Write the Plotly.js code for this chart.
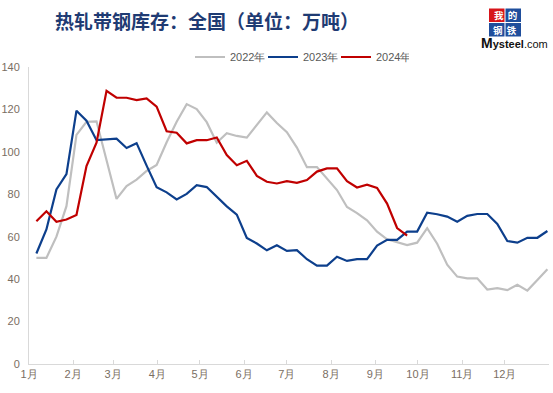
<!DOCTYPE html>
<html>
<head>
<meta charset="utf-8">
<script src="https://cdn.plot.ly/plotly-3.0.1.min.js"></script>
<style>
  html, body { margin: 0; padding: 0; background: #fff; }
  #chart { width: 553px; height: 393px; }
</style>
</head>
<body>
<div id="chart"></div>
<script>
// Weekly inventory (万吨), week index 1..52
const seriesNames = ['2022年', '2023年', '2024年'];
const seriesColors = ['#BFBFBF', '#0D3F8C', '#C00000'];

const y2022 = [50.0, 50.0, 60.0, 74.4, 108.0, 114.2, 114.4, 96.0, 77.8, 83.9,
  86.9, 91.0, 93.8, 104.5, 114.2, 122.5, 120.2, 114.0, 104.3, 108.8,
  107.5, 106.7, 112.6, 118.6, 113.6, 109.3, 102.0, 92.8, 92.8, 87.5,
  82.0, 74.0, 71.1, 67.7, 62.4, 58.8, 57.3, 56.1, 57.2, 64.0,
  56.7, 46.8, 41.2, 40.4, 40.4, 35.1, 35.8, 34.8, 37.3, 34.6,
  39.6, 44.7];

const y2023 = [52.1, 63.4, 82.3, 89.5, 119.4, 114.7, 105.5, 106.0, 106.2, 101.8,
  104.1, 93.5, 83.3, 80.9, 77.6, 80.2, 84.3, 83.4, 79.0, 74.3,
  70.4, 59.4, 56.8, 53.6, 56.0, 53.3, 53.7, 49.4, 46.4, 46.4,
  50.6, 48.6, 49.4, 49.4, 55.8, 58.5, 58.5, 62.4, 62.4, 71.3,
  70.6, 69.5, 67.1, 69.8, 70.7, 70.7, 66.0, 58.0, 57.2, 59.5,
  59.5, 62.7];

const y2024 = [67.3, 72.0, 67.0, 68.1, 70.2, 93.3, 104.3, 128.8, 125.5, 125.5,
  124.4, 125.2, 121.3, 109.7, 109.0, 104.0, 105.5, 105.5, 106.8, 98.5,
  93.7, 95.8, 88.7, 85.9, 85.1, 86.2, 85.4, 86.7, 90.7, 92.2,
  92.2, 86.2, 83.2, 84.5, 83.0, 75.6, 64.1, 60.5];

const monthLabels = ['1月','2月','3月','4月','5月','6月','7月','8月','9月','10月','11月','12月'];
const monthStartDays = [0, 31, 59, 90, 120, 151, 181, 212, 243, 273, 304, 334];
const yTicks = [0, 20, 40, 60, 80, 100, 120, 140];

// week index <-> day-of-year mapping of the category axis
const firstWeekDay = 5.19, daysPerWeek = 7.033;
const dayToWeek = d => (d - firstWeekDay) / daysPerWeek + 1;

const weeks = y2022.map((_, i) => i + 1);
const allY = [y2022, y2023, y2024];

const traces = allY.map((ys, k) => ({
  type: 'scatter',
  mode: 'lines',
  name: seriesNames[k],
  x: weeks.slice(0, ys.length),
  y: ys,
  line: { color: seriesColors[k], width: 2.2 },
  hoverinfo: 'skip'
}));

const tickvals = monthStartDays.map(dayToWeek).concat([dayToWeek(365)]);
const ticktext = monthLabels.concat(['']);

const tickFontColor = '#7a6e62';
const fontFam = '"Liberation Sans", Arial, sans-serif';
const cjk = '"Noto Sans CJK SC", sans-serif';

// pixel -> paper helpers for decorative (non-data) items
const L = 29, R = 4, T = 67, B = 29, W = 553, H = 393;
const px = x => (x - L) / (W - L - R);
const py = y => (H - B - y) / (H - T - B);

function logoBox(x0, y0, x1, y1, color) {
  return { type: 'rect', xref: 'paper', yref: 'paper', layer: 'below',
    x0: px(x0), x1: px(x1), y0: py(y1), y1: py(y0),
    fillcolor: color, line: { width: 0 } };
}
function logoRow(text, y) {
  return { xref: 'paper', yref: 'paper', x: px(505), y: py(y), xanchor: 'center', yanchor: 'middle',
    text: '<b>' + text + '</b>', showarrow: false,
    font: { family: cjk, size: 9.5, color: '#ffffff' } };
}

const layout = {
  width: W, height: H,
  margin: { l: L, r: R, t: T, b: B, pad: 0 },
  paper_bgcolor: '#ffffff',
  plot_bgcolor: 'rgba(0,0,0,0)',
  showlegend: true,
  title: {
    text: '<b>热轧带钢库存：全国（单位：万吨）</b>',
    font: { family: cjk, size: 19, color: '#1F3B73' },
    xref: 'container', yref: 'container',
    x: 55 / W, xanchor: 'left',
    y: 1 - 22 / H, yanchor: 'middle'
  },
  legend: {
    orientation: 'h',
    x: px(190), xanchor: 'left',
    y: py(57), yanchor: 'middle',
    font: { family: fontFam, size: 11, color: '#595959' },
    itemwidth: 30,
    entrywidth: 28,
    entrywidthmode: 'pixels',
    bgcolor: 'rgba(0,0,0,0)'
  },
  xaxis: {
    type: 'linear',
    range: [dayToWeek(0), dayToWeek(365)],
    tickmode: 'array',
    tickvals: tickvals,
    ticktext: ticktext,
    ticks: 'inside',
    ticklen: 4,
    tickcolor: '#D9D9D9',
    tickwidth: 1,
    showgrid: false,
    zeroline: false,
    showline: true,
    linecolor: '#D9D9D9',
    linewidth: 1,
    tickfont: { family: fontFam, size: 11, color: tickFontColor },
    fixedrange: true
  },
  yaxis: {
    range: [0, 140],
    tickmode: 'array',
    tickvals: yTicks,
    ticks: '',
    showgrid: false,
    zeroline: false,
    showline: true,
    linecolor: '#D9D9D9',
    linewidth: 1,
    ticklabelstandoff: 6,
    tickfont: { family: fontFam, size: 11, color: tickFontColor },
    fixedrange: true
  },
  shapes: [
    logoBox(489, 8.5, 504.5, 22, '#D7141A'),
    logoBox(505.5, 8.5, 521, 22, '#1F4E9C'),
    logoBox(489, 23, 504.5, 36.5, '#1F4E9C'),
    logoBox(505.5, 23, 521, 36.5, '#1F4E9C')
  ],
  annotations: [
    logoRow('我&nbsp;&nbsp;的', 15.2),
    logoRow('钢&nbsp;&nbsp;铁', 29.8),
    { xref: 'paper', yref: 'paper', x: px(514), y: py(43.5), xanchor: 'center', yanchor: 'middle',
      text: '<b><span style="font-size:14px">M</span>ysteel</b>.com', showarrow: false,
      font: { family: fontFam, size: 11, color: '#111111' } }
  ]
};

Plotly.newPlot('chart', traces, layout, { staticPlot: true, displayModeBar: false });
</script>
</body>
</html>
